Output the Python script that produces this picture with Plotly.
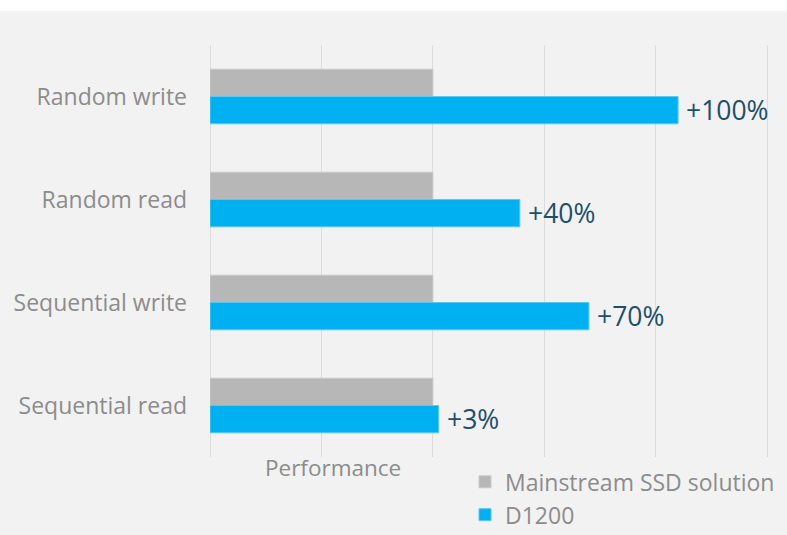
import plotly.graph_objects as go

categories = ["Random write", "Random read", "Sequential write", "Sequential read"]
mainstream = [1.0, 1.0, 1.0, 1.0]
d1200 = [2.10, 1.39, 1.70, 1.026]
labels = ["+100%", "+40%", "+70%", "+3%"]
series_names = ["Mainstream SSD solution", "D1200"]
axis_title = "Performance"

FONT = "Open Sans"
GRAY_TXT = "#8c8c8c"

fig = go.Figure()
fig.add_trace(go.Bar(
    y=categories, x=mainstream, orientation="h", name=series_names[0],
    marker=dict(color="#b7b7b7", line=dict(color="#c9c9c9", width=1)),
))
fig.add_trace(go.Bar(
    y=categories, x=d1200, orientation="h", name=series_names[1],
    marker=dict(color="#00b0f0", line=dict(color="#5cc8f0", width=1)),
))

for cat, v, lab in zip(categories, d1200, labels):
    fig.add_annotation(
        x=v, y=cat, text=lab, showarrow=False, xanchor="left", yanchor="middle",
        xshift=6, yshift=-13, font=dict(family=FONT, size=26.5, color="#1d4f6a"),
    )

fig.add_annotation(
    xref="paper", x=(333 - 210) / 559, yref="paper", y=-(467 - 457) / 412,
    xanchor="center", yanchor="middle", text=axis_title, showarrow=False,
    font=dict(family=FONT, size=22.5, color=GRAY_TXT),
)

fig.update_layout(
    width=787, height=535,
    margin=dict(l=210, r=18, t=45, b=78, autoexpand=False),
    paper_bgcolor="#f2f2f2", plot_bgcolor="#f2f2f2",
    barmode="group", bargap=0.47, bargroupgap=0,
    font=dict(family=FONT, size=23, color=GRAY_TXT),
    showlegend=True,
    legend=dict(
        orientation="v", x=(465 - 210) / 559, xanchor="left", y=-0.008, yanchor="top",
        traceorder="normal", font=dict(family=FONT, size=23, color=GRAY_TXT),
        bgcolor="rgba(0,0,0,0)", itemwidth=30, tracegroupgap=0,
    ),
    xaxis=dict(
        range=[0, 2.508], dtick=0.5, tick0=0, showticklabels=False,
        showgrid=True, gridcolor="#dcdcdc", gridwidth=1,
        zeroline=True, zerolinecolor="#dcdcdc", zerolinewidth=1,
        showline=False, fixedrange=True,
    ),
    yaxis=dict(
        autorange="reversed", showgrid=False, showline=False, ticks="",
        ticklabelstandoff=22, tickfont=dict(family=FONT, size=23, color=GRAY_TXT),
        fixedrange=True,
    ),
    shapes=[dict(
        type="rect", xref="paper", yref="paper", layer="below",
        x0=-1, x1=2, y0=1 + (45 - 11) / 412, y1=1 + 46 / 412,
        fillcolor="white", line=dict(width=0),
    )],
)

fig.write_html("out.html", config={"displayModeBar": False},
               post_script="document.body.style.margin='0';")
